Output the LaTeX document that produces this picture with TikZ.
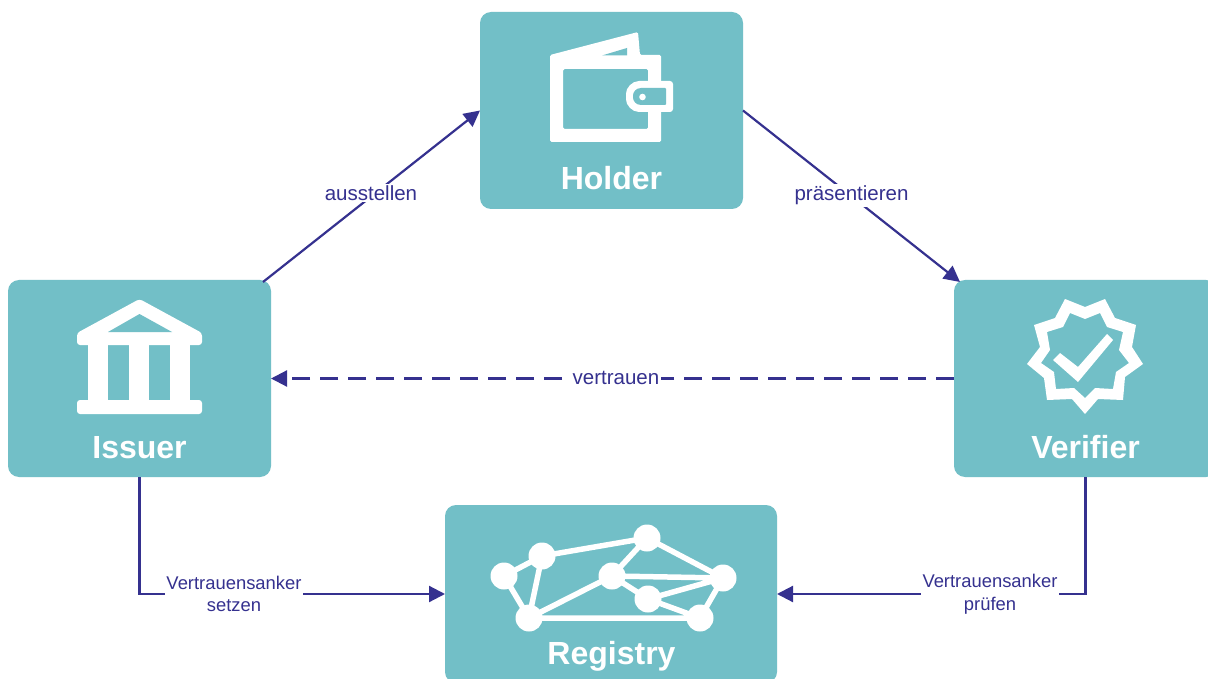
\documentclass[tikz,border=0pt]{standalone}
\usepackage{fontspec}
\setmainfont{Liberation Sans}
\usetikzlibrary{arrows.meta,calc}
\definecolor{teal1}{HTML}{72BFC7}
\definecolor{navy1}{HTML}{35318F}
\tikzset{
 box/.style={fill=teal1,rounded corners=11pt,inner sep=0pt,outer sep=0pt},
 head/.style={font=\bfseries\fontsize{32}{36}\selectfont,text=white,inner sep=0pt},
 conn/.style={draw=navy1,line width=2.2pt,-{Triangle[length=16pt,width=16pt]}},
 lab/.style={font=\fontsize{20.5}{24}\selectfont,text=navy1,fill=white,inner sep=1.5pt,align=center},
 lab2/.style={lab,font=\fontsize{18.4}{22.5}\selectfont},
 ico/.style={fill=white,draw=none},
 net/.style={draw=white,line width=5.5pt},
 dot/.style={circle,fill=white,inner sep=0pt,minimum size=27pt}
}
\begin{document}
\begin{tikzpicture}[x=1pt,y=-1pt]
\useasboundingbox (0,0) rectangle (1208,679);
\clip (0,0) rectangle (1208,679);
\fill[white] (0,0) rectangle (1208,679);
\node[box,minimum width=263pt,minimum height=197pt] (holder) at (611.5,110.5) {};
\node[box,minimum width=263pt,minimum height=197pt] (issuer) at (139.5,378.5) {};
\node[box,minimum width=263pt,minimum height=197pt] (verifier) at (1085.5,378.5) {};
\node[box,minimum width=332pt,minimum height=178pt] (registry) at (611,594) {};
\node[head,anchor=base] (tholder) at (611.5,190) {Holder};
\node[head,anchor=base] (tissuer) at (139.5,458.5) {Issuer};
\node[head,anchor=base] (tverifier) at (1085.5,458.5) {Verifier};
\node[head,anchor=base] (tregistry) at (611.5,664) {Registry};
% connectors
\draw[conn] ($(issuer.north east)+(-8,2)$) -- (holder.west);
\node[lab] (l1) at (371,193) {ausstellen};
\draw[conn] (holder.east) -- ($(verifier.north west)+(6,2)$);
\node[lab] (l2) at (851.5,195.5) {präsentieren};
\draw[conn,dash pattern=on 18pt off 10pt] (verifier.west) -- (issuer.east);
\node[lab] (l3) at (616,377.5) {vertrauen};
\draw[conn] (issuer.south) |- (registry.west);
\draw[conn] (verifier.south) |- (registry.east);
\node[lab2] (l4) at (234,594) {Vertrauensanker\\setzen};
\node[lab2] (l5) at (990,594) {Vertrauensanker\\prüfen};
% wallet
\fill[ico,even odd rule,rounded corners=1.5pt] (550,55) -- (638,32) -- (640,55) -- (661,55) -- (661,142) -- (550,142) -- cycle
 (563,69) rectangle (648,129);
\fill[teal1] (602,55.5) -- (627,48) -- (627,55.5) -- cycle;
\fill[ico,rounded corners=3pt] (673,81) -- (673,112) -- (642,112) .. controls (632,112) and (626,105) .. (626,96.5) .. controls (626,88) and (632,81) .. (642,81) -- cycle;
\fill[teal1,rounded corners=1pt] (666,88) -- (666,105) -- (642,105) .. controls (636,105) and (633,101) .. (633,96.5) .. controls (633,92) and (636,88) .. (642,88) -- cycle;
\fill[ico] (642.5,97) circle (3.3pt);
% bank
\fill[ico,rounded corners=3pt] (77,345) -- (77,333) -- (139.5,299) -- (202,333) -- (202,345) -- cycle;
\fill[teal1] (108,332) -- (139.5,314) -- (172,332) -- cycle;
\fill[ico] (88,340) rectangle (108,405);
\fill[ico] (129,340) rectangle (149,405);
\fill[ico] (170,340) rectangle (190,405);
\fill[ico,rounded corners=3pt] (77,400) rectangle (202,414);
% badge
\fill[ico,even odd rule] (1065,299) -- (1085,307) -- (1105,299) -- (1115,318) -- (1136,325) -- (1132,347) -- (1143,364) -- (1125,377) -- (1123,400) -- (1098,399) -- (1085,414) -- (1072,399) -- (1047,400) -- (1044,378) -- (1027,364) -- (1040,347) -- (1034,325) -- (1055,318) -- cycle
 (1070,313) -- (1085,319) -- (1100,313) -- (1107,327) -- (1123,332) -- (1119,350) -- (1129,363) -- (1116,372) -- (1113,389) -- (1095,388) -- (1085,398) -- (1074,388) -- (1056,389) -- (1054,372) -- (1041,363) -- (1050,350) -- (1047,332) -- (1063,327) -- cycle;
\fill[ico] (1053,360) -- (1060,353) -- (1078,367) -- (1107,334) -- (1113,340) -- (1078,382) -- cycle;
% network
\node[dot] (n1) at (504,576) {};
\node[dot] (n2) at (542,556) {};
\node[dot] (n3) at (647,538) {};
\node[dot] (n4) at (612,576) {};
\node[dot] (n5) at (723,578) {};
\node[dot] (n6) at (648,599) {};
\node[dot] (n7) at (700,618) {};
\node[dot] (n8) at (529,618) {};
\draw[net] (n1.center)--(n2.center) (n1.center)--(n8.center) (n2.center)--(n8.center) (n2.center)--(n3.center)
 (n3.center)--(n4.center) (n3.center)--(n5.center) (n4.center)--(n5.center) (n4.center)--(n6.center)
 (n6.center)--(n5.center) (n6.center)--(n7.center) (n5.center)--(n7.center) (n8.center)--(n7.center) (n8.center)--(n4.center);
\end{tikzpicture}
\end{document}
